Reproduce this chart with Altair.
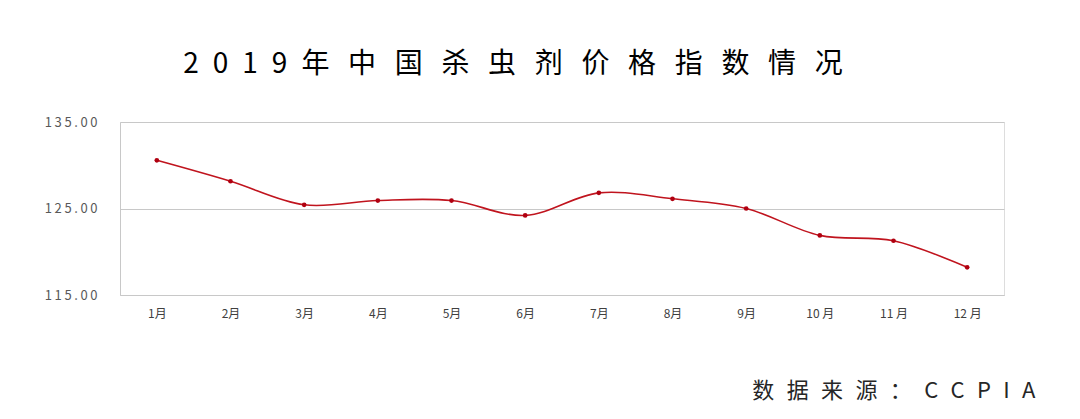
import altair as alt
import pandas as pd

months = ["1月", "2月", "3月", "4月", "5月", "6月", "7月", "8月", "9月", "10月", "11月", "12月"]
values = [130.57, 128.15, 125.43, 125.92, 125.92, 124.2, 126.81, 126.12, 125.0, 121.89, 121.27, 118.2]
y_ticks = [115, 125, 135]

title_year = "2019"
title_words = "年中国杀虫剂价格指数情况"
source_words = "数据来源："
source_org = "CCPIA"

DIGIT_GAP = "\u2002"
CJK_GAP = "\u2002\u2006"
SRC_GAP = "\u2002\u200a"
title_spaced = DIGIT_GAP.join(list(title_year)) + DIGIT_GAP + CJK_GAP.join(list(title_words))
source_spaced = SRC_GAP.join(list(source_words)) + SRC_GAP + SRC_GAP.join(list(source_org))

df = pd.DataFrame({"month": months, "value": values})

FONT = "Noto Sans CJK SC"
RED = "#c0141e"

base = alt.Chart(df).encode(
    x=alt.X(
        "month:N",
        sort=months,
        scale=alt.Scale(type="point", padding=0.5),
        axis=alt.Axis(
            title=source_spaced,
            titleFont=FONT,
            titleFontSize=22,
            titleFontWeight="normal",
            titleColor="#262626",
            titleAnchor="end",
            titleAlign="right",
            titleBaseline="middle",
            titleX=915,
            titleY=95,
            labelFont=FONT,
            labelFontSize=12,
            labelColor="#404040",
            labelPadding=13,
            labelAngle=0,
            labelExpr="length(datum.label) > 2 ? replace(datum.label, '月', ' 月') : datum.label",
            ticks=False,
            domain=True,
            domainColor="#c8c8c8",
            domainWidth=1,
            grid=False,
        ),
    ),
    y=alt.Y(
        "value:Q",
        scale=alt.Scale(domain=[115, 135], nice=False, zero=False),
        axis=alt.Axis(
            title=None,
            values=y_ticks,
            labelExpr="join(split(format(datum.value, '.2f'), ''), '\u2009')",
            labelFont=FONT,
            labelFontSize=13,
            labelColor="#595959",
            labelPadding=23,
            ticks=False,
            domain=True,
            domainColor="#c8c8c8",
            grid=True,
            gridColor="#c8c8c8",
            gridWidth=1,
        ),
    ),
)

line = base.mark_line(color=RED, strokeWidth=1.6, interpolate="catmull-rom")
points = base.mark_circle(color="#b00010", size=22, opacity=1)

chart = (
    alt.layer(line, points)
    .properties(
        width=884,
        height=173,
        autosize=alt.AutoSizeParams(type="none"),
        padding={"left": 112, "top": 114, "right": 68, "bottom": 108},
        title=alt.TitleParams(
            text=title_spaced,
            font=FONT,
            fontSize=28,
            fontWeight="normal",
            color="#000000",
            anchor="middle",
            dx=-49,
            offset=37,
        ),
    )
    .configure_view(stroke=None)
    .configure(background="white")
)

chart.save("out.html", embed_options={"renderer": "svg", "actions": False})
